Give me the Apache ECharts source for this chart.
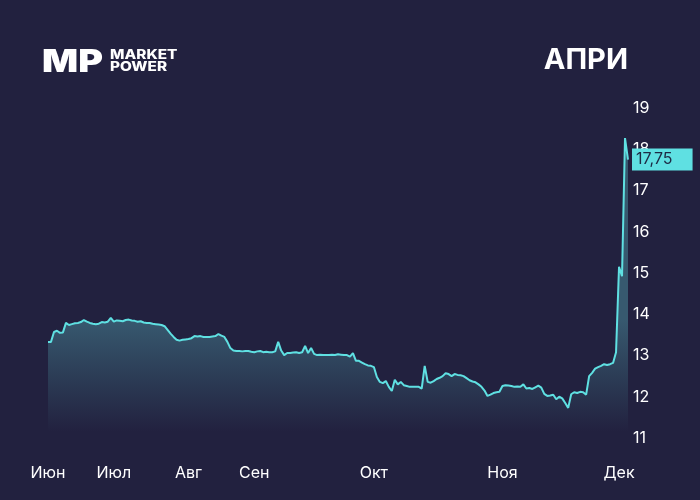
<!DOCTYPE html>
<html>
<head>
<meta charset="utf-8">
<script src="https://cdn.jsdelivr.net/npm/echarts@6/dist/echarts.min.js"></script>
<style>
html,body{margin:0;padding:0;background:#22213f;}
#chart{width:700px;height:500px;}
</style>
</head>
<body>
<div id="chart"></div>
<script>
const ticker = 'АПРИ';
const lastLabel = '17,75';
const monthLabels = ['Июн', 'Июл', 'Авг', 'Сен', 'Окт', 'Ноя', 'Дек'];
const monthIndex = [0, 22, 47, 69, 109, 152, 191];
const yTicks = [11, 12, 13, 14, 15, 16, 17, 18, 19];
const prices = [
  13.33, 13.33, 13.57, 13.60, 13.55, 13.56, 13.79, 13.74, 13.76, 13.78,
  13.79, 13.81, 13.86, 13.82, 13.79, 13.77, 13.76, 13.77, 13.81, 13.80,
  13.82, 13.91, 13.82, 13.85, 13.84, 13.83, 13.86, 13.87, 13.85, 13.84,
  13.82, 13.83, 13.80, 13.79, 13.79, 13.77, 13.76, 13.75, 13.74, 13.71,
  13.62, 13.53, 13.45, 13.38, 13.36, 13.38, 13.39, 13.40, 13.42, 13.47,
  13.46, 13.47, 13.45, 13.45, 13.45, 13.46, 13.47, 13.52, 13.48, 13.45,
  13.33, 13.18, 13.12, 13.11, 13.11, 13.10, 13.11, 13.11, 13.09, 13.08,
  13.10, 13.11, 13.08, 13.09, 13.08, 13.08, 13.10, 13.33, 13.12, 13.01,
  13.06, 13.06, 13.07, 13.08, 13.06, 13.08, 13.23, 13.06, 13.18, 13.04,
  13.01, 13.02, 13.01, 13.01, 13.01, 13.02, 13.01, 13.03, 13.02, 13.01,
  13.01, 12.97, 13.06, 12.87, 12.87, 12.83, 12.79, 12.76, 12.75, 12.72,
  12.48, 12.36, 12.33, 12.38, 12.24, 12.14, 12.41, 12.30, 12.36, 12.28,
  12.26, 12.24, 12.24, 12.24, 12.24, 12.20, 12.75, 12.36, 12.34, 12.38,
  12.43, 12.46, 12.50, 12.57, 12.55, 12.50, 12.55, 12.53, 12.52, 12.50,
  12.45, 12.40, 12.37, 12.35, 12.30, 12.24, 12.15, 12.02, 12.05, 12.09,
  12.11, 12.12, 12.26, 12.28, 12.27, 12.26, 12.24, 12.25, 12.24, 12.30,
  12.20, 12.21, 12.19, 12.23, 12.27, 12.22, 12.07, 12.02, 12.03, 12.05,
  11.94, 12.00, 11.96, 11.85, 11.73, 12.06, 12.11, 12.09, 12.12, 12.11,
  12.05, 12.50, 12.58, 12.68, 12.72, 12.75, 12.79, 12.77, 12.79, 12.82,
  13.08, 15.15, 14.92, 18.27, 17.75
];
const categories = prices.map((_, i) => String(i));
const monthMap = {};
monthIndex.forEach((idx, k) => { monthMap[idx] = monthLabels[k]; });

const chart = echarts.init(document.getElementById('chart'), null, {renderer: 'canvas'});
const font = 'Inter, "Open Sans", sans-serif';
chart.setOption({
  backgroundColor: '#22213f',
  animation: false,
  grid: {left: 48, right: 72, top: 108, bottom: 62},
  xAxis: {
    type: 'category',
    data: categories,
    boundaryGap: false,
    axisLine: {show: false},
    axisTick: {show: false},
    splitLine: {show: false},
    axisLabel: {
      color: '#ffffff',
      fontFamily: font,
      fontSize: 16,
      margin: 27,
      interval: (idx) => monthMap[idx] !== undefined,
      formatter: (v, idx) => monthMap[idx] || ''
    }
  },
  yAxis: {
    type: 'value',
    position: 'right',
    min: yTicks[0],
    max: yTicks[yTicks.length - 1],
    interval: 1,
    axisLine: {show: false},
    axisTick: {show: false},
    splitLine: {show: false},
    axisLabel: {color: '#ffffff', fontFamily: font, fontSize: 16, margin: 5, align: 'left'}
  },
  graphic: [
    {type: 'text', left: 42, top: 47, scaleX: 1.22, style: {text: 'MP', fill: '#ffffff', font: '900 31px Inter, sans-serif'}},
    {type: 'text', left: 110, top: 49, scaleX: 1.18, style: {text: 'MARKET\nPOWER', fill: '#ffffff', font: '800 13px Inter, sans-serif', lineHeight: 12}},
    {type: 'text', right: 72, top: 46, style: {text: ticker, fill: '#ffffff', font: '700 29px Inter, sans-serif', textAlign: 'right'}}
  ],
  series: [{
    type: 'line',
    data: prices,
    showSymbol: false,
    symbol: 'none',
    lineStyle: {color: '#5fe0e2', width: 2},
    areaStyle: {
      origin: 'start',
      opacity: 1,
      color: new echarts.graphic.LinearGradient(0, 320, 0, 432, [
        {offset: 0, color: '#37596f'},
        {offset: 0.5, color: '#2c3d56'},
        {offset: 1, color: '#22213f'}
      ], true)
    },
    endLabel: {
      show: true,
      formatter: () => lastLabel,
      color: '#1d2a45',
      backgroundColor: '#5fe0e2',
      fontFamily: font,
      fontSize: 16,
      padding: [3, 20, 3, 4],
      distance: 4
    }
  }]
});
</script>
</body>
</html>
